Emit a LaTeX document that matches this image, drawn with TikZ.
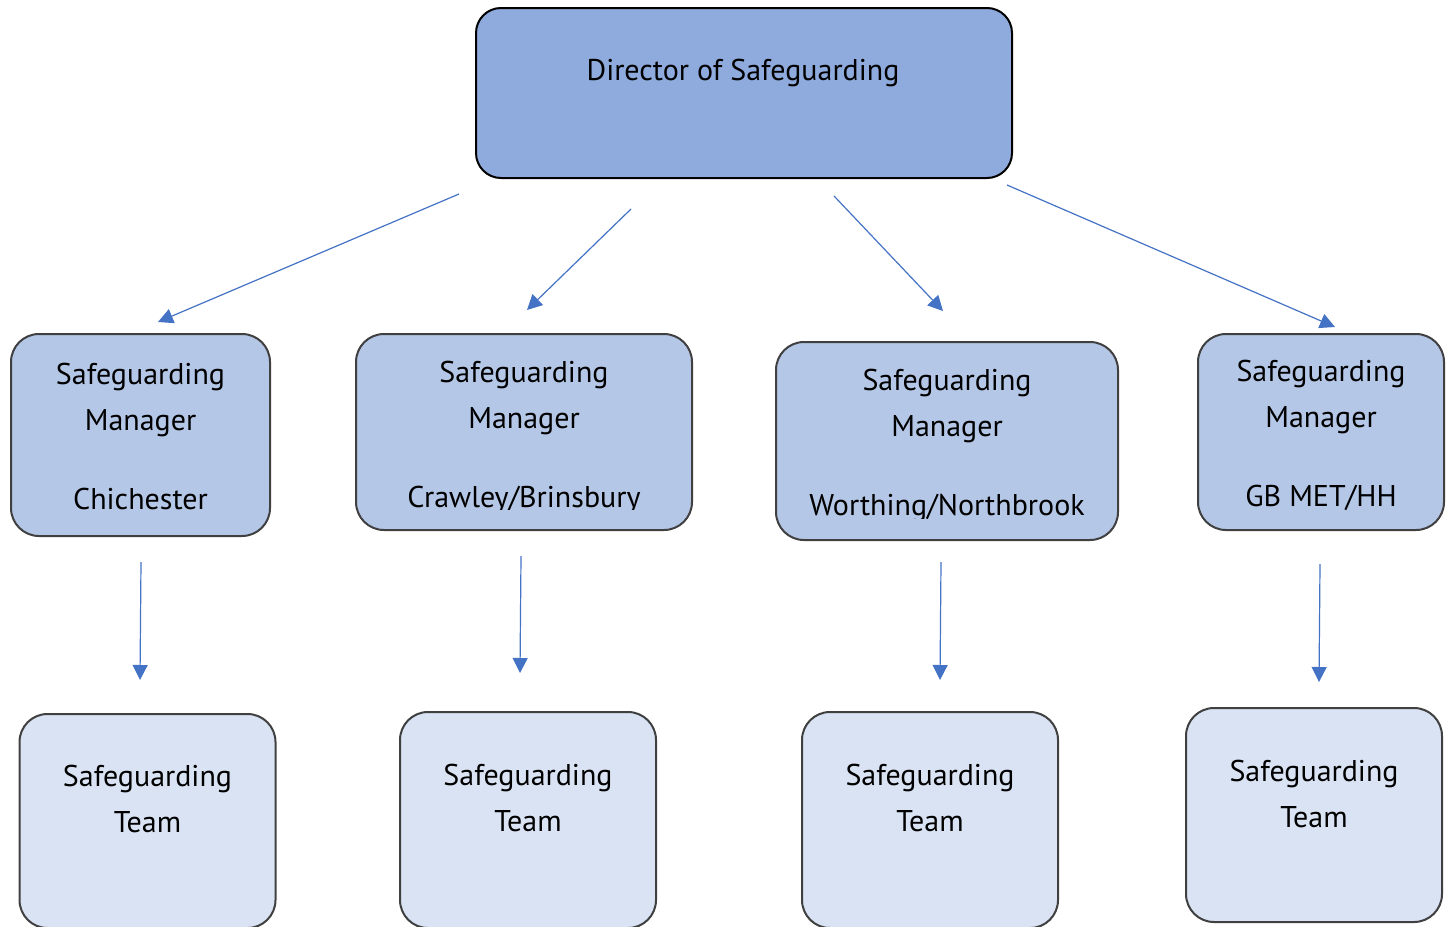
\documentclass[tikz,border=0pt]{standalone}
\usepackage{fontspec}
\setmainfont{PT Sans}
\usetikzlibrary{arrows.meta}

\definecolor{dirfill}{HTML}{8FAADC}
\definecolor{mgrfill}{HTML}{B4C7E7}
\definecolor{teamfill}{HTML}{DAE3F3}
\definecolor{boxline}{HTML}{404040}
\definecolor{linkblue}{HTML}{4472C4}

\begin{document}
\begin{tikzpicture}[x = 1pt, y = -1pt,
        > = {Triangle[length = 15pt, width = 15pt]},
        director/.style = {draw = black, line width = 2pt, fill = dirfill,
            rounded corners = 25pt, inner sep = 0pt},
        manager/.style = {draw = boxline, line width = 2pt, fill = mgrfill,
            rounded corners = 28pt, inner sep = 0pt},
        team/.style = {draw = boxline, line width = 2pt, fill = teamfill,
            rounded corners = 28pt, inner sep = 0pt},
        caption/.style = {anchor = base, inner sep = 0pt,
            font = \fontsize{30pt}{36pt}\selectfont},
        link/.style = {->, draw = linkblue, line width = 1.2pt}]

        % Fix the page to the size of the reference.
        \useasboundingbox (0, 0) rectangle (1447, 926);

        % Box for the director at the top.
        \node[director, minimum width = 536pt, minimum height = 170pt] (DIR) at (744, 93) {};
        \node[caption] (DIRTEXT) at (743, 80) {Director of Safeguarding};

        % Loop through the managers: centre, size, first baseline, cut-off line and site.
        \foreach \n/\cx/\cy/\w/\h/\by/\cut/\site in {%
            1/140.5/435/259/202/384/530/Chichester,
            2/524/432/336/196/382/509.5/{Crawley/Brinsbury},
            3/947/441/342/198/390/518.5/{Worthing/Northbrook},
            4/1321/432/246/196/381/525/{GB MET/HH}}{

            % Box for the manager.
            \node[manager, minimum width = \w pt, minimum height = \h pt] (M\n) at (\cx, \cy) {};

            % Two lines of the title, then the site lower down.
            \node[caption] (M\n-A) at (\cx, \by) {Safeguarding};
            \node[caption] (M\n-B) at (\cx, \by + 46) {Manager};
            \begin{scope}
                \clip (\cx - 200, \by + 80) rectangle (\cx + 200, \cut);
                \node[caption] (M\n-C) at (\cx, \by + 125) {\site};
            \end{scope}
        }

        % Loop through the teams below each manager.
        \foreach \n/\cx/\cy/\h/\by in {%
            1/147.5/821/214/786,
            2/528/820/216/785,
            3/930/820/216/785,
            4/1314/815/214/781}{

            % Box for the team, and its two lines of text.
            \node[team, minimum width = 256pt, minimum height = \h pt] (T\n) at (\cx, \cy) {};
            \node[caption] (T\n-A) at (\cx, \by) {Safeguarding};
            \node[caption] (T\n-B) at (\cx, \by + 46) {Team};
        }

        % Arrows from the director down to the managers, then to the teams.
        \foreach \n/\sx/\sy/\ex/\ey in {%
            1/459/194/158/322, 2/631/209/527/310, 3/834/196/943/311, 4/1007/185/1335/327,
            5/141/562/140/680, 6/521/556/520/673, 7/941/562/940/680, 8/1320/564/1319/682}{

            \coordinate (S\n) at (\sx, \sy);
            \coordinate (E\n) at (\ex, \ey);
            \draw[link] (S\n) to (E\n);
        }
    \end{tikzpicture}
\end{document}
